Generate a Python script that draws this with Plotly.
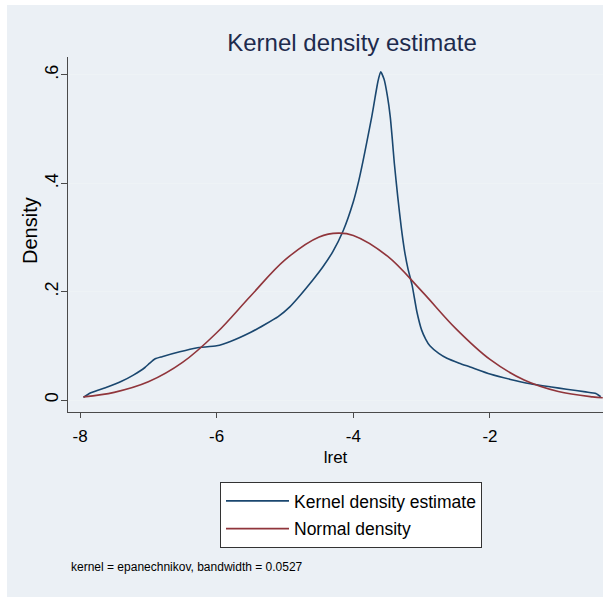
import plotly.graph_objects as go

# ---- data ----
kde_x = [-7.95, -7.85, -7.6, -7.4, -7.22, -7.05, -6.98, -6.9, -6.8, -6.54, -6.3, -6.0,
         -5.8, -5.5, -5.3, -5.1, -4.93, -4.78, -4.59, -4.45, -4.30, -4.15, -4.0, -3.92,
         -3.86, -3.80, -3.73, -3.68, -3.64, -3.60, -3.55, -3.50, -3.46, -3.43, -3.40,
         -3.35, -3.30, -3.25, -3.20, -3.14, -3.07, -3.0, -2.94, -2.88, -2.75, -2.63,
         -2.45, -2.29, -2.0, -1.7, -1.41, -1.1, -0.88, -0.6, -0.45, -0.38]
kde_y = [0.005, 0.013, 0.024, 0.034, 0.046, 0.060, 0.068, 0.076, 0.080, 0.089, 0.096, 0.100,
         0.108, 0.125, 0.139, 0.154, 0.172, 0.193, 0.222, 0.245, 0.274, 0.312, 0.366, 0.405,
         0.440, 0.478, 0.523, 0.560, 0.588, 0.606, 0.592, 0.560, 0.523, 0.482, 0.437,
         0.375, 0.320, 0.275, 0.242, 0.212, 0.163, 0.129, 0.112, 0.100, 0.086, 0.077,
         0.068, 0.061, 0.048, 0.038, 0.030, 0.024, 0.020, 0.015, 0.012, 0.006]

norm_x = [-7.95, -7.5, -7.0, -6.5, -6.0, -5.5, -5.0, -4.5, -4.22, -4.0, -3.5, -3.0,
          -2.5, -2.0, -1.5, -1.0, -0.5, -0.35]
norm_y = [0.0057, 0.0141, 0.0335, 0.0693, 0.1241, 0.1925, 0.2587, 0.3011, 0.308, 0.3037,
          0.2654, 0.2010, 0.1318, 0.0749, 0.0369, 0.0157, 0.0058, 0.0042]

y_ticks = [0, 0.2, 0.4, 0.6]
y_ticktext = ["0", ".2", ".4", ".6"]
x_ticks = [-8, -6, -4, -2]
x_ticktext = ["-8", "-6", "-4", "-2"]

FONT = "Liberation Sans, Arial, Helvetica, sans-serif"
BLUE = "#1a476f"
RED = "#90353b"

W, H = 603, 597
ML, MR, MT, MB = 68, 0, 57, 185
PW, PH = W - ML - MR, H - MT - MB


def px2paper_x(px):
    return (px - ML) / PW


def px2paper_y(py):
    return (H - MB - py) / PH


fig = go.Figure()
fig.add_trace(go.Scatter(x=kde_x, y=kde_y, mode="lines", name="Kernel density estimate",
                         legendgroup="a",
                         line=dict(color=BLUE, width=1.6, shape="spline", smoothing=0.5)))
fig.add_trace(go.Scatter(x=norm_x, y=norm_y, mode="lines", name="Normal density",
                         legendgroup="b",
                         line=dict(color=RED, width=1.6, shape="spline", smoothing=1.0)))

# outer light background panel
fig.add_shape(type="rect", xref="paper", yref="paper",
              x0=px2paper_x(7), x1=px2paper_x(603), y0=px2paper_y(597), y1=px2paper_y(5),
              fillcolor="#ebf0f5", line=dict(width=0), layer="below")

fig.update_layout(
    width=W, height=H,
    margin=dict(l=ML, r=MR, t=MT, b=MB, pad=0, autoexpand=False),
    paper_bgcolor="white",
    plot_bgcolor="white",
    font=dict(family=FONT, color="#000000"),
    title=dict(text="Kernel density estimate", x=352 / W, xanchor="center",
               y=1 - 43 / H, yanchor="middle",
               font=dict(family=FONT, size=24, color="#1e2b4d")),
    showlegend=True,
    legend=dict(x=px2paper_x(220), y=px2paper_y(482), xanchor="left", yanchor="top",
                bgcolor="white", bordercolor="#333333", borderwidth=1,
                font=dict(family=FONT, size=17.5, color="#000000"),
                itemwidth=63, tracegroupgap=2),
    annotations=[
        dict(text="kernel = epanechnikov, bandwidth = 0.0527",
             xref="paper", yref="paper", x=px2paper_x(69), y=px2paper_y(567),
             xanchor="left", yanchor="middle", showarrow=False,
             font=dict(family=FONT, size=12, color="#000000")),
        dict(text="Density", textangle=-90,
             xref="paper", yref="paper", x=px2paper_x(30), y=px2paper_y(231),
             xanchor="center", yanchor="middle", showarrow=False,
             font=dict(family=FONT, size=20, color="#000000")),
    ],
)

fig.update_xaxes(range=[-8.176, -0.346], tickvals=x_ticks, ticktext=x_ticktext,
                 automargin=False,
                 showline=True, linecolor="#4a4a4a", linewidth=1.2,
                 ticks="outside", ticklen=5, tickcolor="#4a4a4a",
                 showgrid=False, zeroline=False,
                 tickfont=dict(family=FONT, size=17), ticklabelstandoff=3,
                 title=dict(text="lret", font=dict(family=FONT, size=17), standoff=6))
fig.update_yaxes(range=[-0.02215, 0.6332], tickvals=y_ticks, ticktext=y_ticktext,
                 tickangle=-90, automargin=False,
                 showline=True, linecolor="#4a4a4a", linewidth=1.2,
                 ticks="outside", ticklen=6, tickcolor="#4a4a4a",
                 showgrid=True, gridcolor="#eef3f6", gridwidth=1, zeroline=False,
                 tickfont=dict(family=FONT, size=18), ticklabelstandoff=-4)

fig.write_html("out.html", config={"displayModeBar": False},
               post_script="document.body.style.margin='0';document.body.style.padding='0';")
